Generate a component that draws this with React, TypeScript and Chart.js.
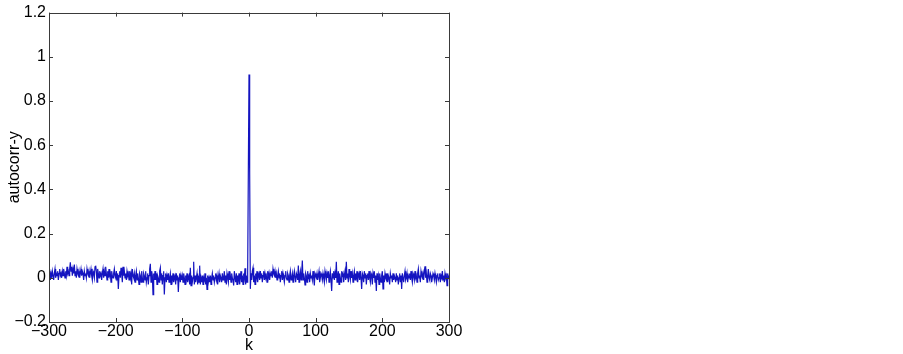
import React, { useEffect, useRef } from "react";
import { Chart, registerables } from "chart.js";

Chart.register(...registerables);

// Autocorrelation values, k = -300 .. -1
const autocorrNeg: number[] = [
  0.01, 0.03, -0.01, 0.02, 0.00, 0.03, 0.01, -0.01, 0.02, 0.04, 0.00, 0.02, 0.01, 0.03, -0.01, 0.02, 0.04, 0.01, 0.02, 0.00,
  0.03, 0.01, 0.04, 0.02, 0.00, 0.03, 0.01, 0.05, 0.02, 0.03, 0.01, 0.04, 0.07, 0.03, 0.05, 0.01, 0.04, 0.02, 0.06, 0.01,
  0.03, 0.00, 0.04, 0.02, 0.01, 0.03, 0.00, 0.02, 0.04, 0.01, 0.03, 0.02, -0.01, 0.03, 0.01, 0.02, 0.00, 0.04, 0.02, 0.01,
  0.03, 0.00, 0.02, 0.04, 0.01, -0.01, 0.03, 0.02, 0.00, 0.05, 0.055, 0.03, -0.02, 0.04, 0.02, 0.00, 0.03, 0.01, 0.02, -0.01,
  0.02, 0.04, 0.00, 0.03, 0.01, 0.05, 0.02, -0.01, 0.03, 0.00, 0.04, 0.01, 0.02, -0.02, 0.03, 0.01, 0.00, 0.02, 0.04, 0.01,
  0.00, 0.03, -0.01, 0.02, -0.05, 0.01, 0.03, 0.00, 0.045, 0.02, -0.02, 0.05, 0.01, 0.03, 0.00, 0.02, -0.01, 0.03, 0.01, 0.02,
  -0.01, 0.03, 0.00, 0.02, -0.03, 0.04, 0.01, 0.00, 0.02, -0.02, 0.01, 0.03, -0.01, 0.02, 0.00, -0.03, 0.02, 0.01, -0.02, 0.03,
  0.00, -0.02, 0.02, 0.01, -0.01, 0.03, -0.02, 0.00, 0.02, -0.03, 0.01, 0.04, 0.063, -0.02, 0.03, 0.01, -0.076, 0.02, -0.01, 0.03,
  -0.01, 0.02, -0.03, 0.01, 0.00, -0.02, 0.03, 0.045, -0.01, 0.02, -0.03, 0.01, 0.03, -0.076, 0.00, 0.02, -0.02, 0.01, -0.01, 0.02,
  -0.02, 0.00, 0.02, -0.03, 0.01, -0.01, 0.02, -0.02, 0.00, 0.01, -0.03, 0.02, -0.01, 0.01, -0.064, 0.00, 0.02, -0.02, 0.01, -0.01,
  0.01, -0.02, 0.02, 0.00, -0.03, 0.01, -0.01, 0.02, -0.02, 0.00, 0.01, -0.03, 0.045, -0.035, 0.01, -0.02, 0.00, 0.073, -0.03, 0.01,
  -0.02, 0.00, 0.02, -0.03, 0.01, -0.02, 0.055, -0.03, 0.00, -0.02, 0.01, -0.03, 0.00, -0.01, 0.02, -0.03, 0.00, -0.052, 0.01, -0.02,
  0.00, -0.02, 0.01, -0.03, 0.00, 0.02, -0.01, 0.01, -0.02, 0.00, 0.02, -0.01, 0.01, -0.03, 0.00, 0.02, -0.02, 0.01, 0.00, -0.02,
  0.02, -0.01, 0.00, 0.03, -0.02, 0.01, -0.03, 0.02, 0.00, -0.02, 0.03, -0.01, 0.01, -0.02, 0.02, 0.00, -0.01, -0.035, 0.03, 0.00,
  -0.02, 0.02, -0.03, 0.01, -0.01, 0.02, -0.03, 0.00, 0.03, -0.02, 0.01, -0.03, 0.02, 0.00, 0.043, -0.03, 0.01, -0.02, 0.02, 0.48,
];

// k = 0
const autocorrZero: number[] = [0.92];

// k = 1 .. 300
const autocorrPos: number[] = [
  0.48, -0.05, 0.02, -0.01, 0.03, 0.045, -0.02, 0.01, -0.03, 0.02, 0.00, 0.03, -0.02, 0.01, 0.02, -0.01, 0.03, 0.00, 0.02, -0.02,
  0.01, 0.03, -0.01, 0.02, 0.00, 0.01, -0.02, 0.03, 0.00, 0.02, -0.01, 0.02, 0.01, 0.03, 0.00, 0.04, 0.02, 0.01, 0.03, 0.00,
  0.02, -0.01, 0.01, 0.03, 0.00, 0.02, -0.02, 0.01, 0.03, -0.01, 0.02, 0.00, -0.02, 0.01, 0.03, 0.00, -0.01, 0.02, 0.01, -0.02,
  0.01, 0.03, -0.01, 0.00, 0.02, -0.02, 0.01, 0.03, 0.00, -0.02, 0.02, 0.01, -0.01, 0.055, -0.02, 0.01, 0.03, -0.01, 0.02, 0.078,
  -0.01, 0.02, 0.00, -0.032, 0.02, 0.01, -0.02, 0.03, 0.00, 0.01, -0.02, 0.02, 0.00, 0.01, -0.01, 0.03, 0.00, -0.035, 0.02, 0.01,
  0.00, 0.02, -0.01, 0.01, 0.03, -0.02, 0.00, 0.02, 0.01, -0.01, 0.02, 0.00, -0.02, 0.03, 0.01, -0.01, 0.02, 0.00, 0.03, -0.02,
  0.01, 0.03, -0.01, -0.06, 0.02, 0.00, 0.03, -0.01, 0.02, 0.00, 0.073, -0.02, 0.01, 0.03, -0.03, 0.02, 0.00, -0.02, 0.03, 0.01,
  0.02, -0.02, 0.01, 0.03, -0.01, 0.073, 0.00, 0.02, -0.02, 0.04, 0.01, -0.01, 0.03, 0.00, 0.02, -0.02, 0.01, 0.03, -0.01, 0.02,
  0.00, 0.03, -0.02, 0.01, 0.02, -0.01, 0.03, 0.00, -0.05, 0.02, 0.01, -0.02, 0.03, 0.00, 0.02, -0.03, 0.01, 0.02, -0.01, 0.03,
  0.00, -0.02, 0.02, 0.01, -0.03, 0.02, 0.00, 0.03, -0.02, 0.01, -0.06, 0.02, -0.01, 0.01, -0.03, 0.02, 0.00, -0.02, 0.01, 0.03,
  -0.05, 0.01, -0.02, 0.02, 0.00, -0.01, 0.02, -0.02, 0.01, 0.00, -0.03, 0.02, 0.00, 0.01, -0.02, 0.02, -0.01, 0.01, 0.00, -0.02,
  0.02, -0.01, 0.01, -0.03, 0.00, 0.02, -0.02, 0.01, -0.05, 0.02, 0.00, -0.02, 0.01, 0.03, -0.01, 0.00, 0.02, -0.02, 0.01, 0.00,
  0.02, -0.01, 0.03, 0.00, -0.02, 0.02, 0.01, -0.01, 0.03, 0.00, 0.01, -0.02, 0.02, 0.04, 0.00, 0.01, -0.02, 0.03, 0.01, 0.00,
  0.02, -0.01, 0.03, 0.052, 0.00, 0.02, -0.02, 0.01, 0.04, 0.00, -0.01, 0.02, 0.01, -0.02, 0.00, 0.02, 0.01, -0.01, 0.02, 0.00,
  -0.02, 0.01, 0.02, -0.01, 0.00, 0.02, -0.02, 0.01, 0.00, 0.03, -0.01, 0.01, -0.02, 0.02, 0.00, 0.01, -0.035, 0.02, 0.00, 0.01,
];

const kMin = -300;
const kMax = 300;
const xTickStep = 100;
const yMin = -0.2;
const yMax = 1.2;
const yTickStep = 0.2;
const xTitle = "k";
const yTitle = "autocorr-y";

const FONT = "'Liberation Sans', Arial, Helvetica, sans-serif";
const FONT_SIZE = 16;

function fmt(v: number): string {
  const r = parseFloat(v.toFixed(1));
  return r < 0 ? "\u2212" + String(-r) : String(r);
}

const boxPlugin = {
  id: "matlabBox",
  afterDatasetsDraw(chart: any) {
    const { ctx, chartArea } = chart;
    const { left, right, top, bottom } = chartArea;
    const xs = chart.scales.x;
    const ys = chart.scales.y;
    const tl = 4;
    ctx.save();
    ctx.strokeStyle = "#3a3a3a";
    ctx.lineWidth = 1;
    ctx.beginPath();
    xs.ticks.forEach((t: any) => {
      const px = Math.round(xs.getPixelForValue(t.value)) + 0.5;
      ctx.moveTo(px, bottom);
      ctx.lineTo(px, bottom - tl);
      ctx.moveTo(px, top);
      ctx.lineTo(px, top + tl);
    });
    ys.ticks.forEach((t: any) => {
      const py = Math.round(ys.getPixelForValue(t.value)) + 0.5;
      ctx.moveTo(left, py);
      ctx.lineTo(left + tl, py);
      ctx.moveTo(right, py);
      ctx.lineTo(right - tl, py);
    });
    ctx.stroke();
    ctx.strokeRect(Math.round(left) + 0.5, Math.round(top) + 0.5, Math.round(right - left), Math.round(bottom - top));
    ctx.restore();
  },
};

export default function App() {
  const ref = useRef<HTMLCanvasElement | null>(null);

  useEffect(() => {
    if (!ref.current) return;
    const values = [...autocorrNeg, ...autocorrZero, ...autocorrPos];
    const points = values.map((v, i) => ({ x: kMin + i, y: v }));
    const chart = new Chart(ref.current, {
      type: "line",
      data: {
        datasets: [
          {
            data: points,
            borderColor: "#1414c0",
            borderWidth: 1.2,
            pointRadius: 0,
            tension: 0,
            fill: false,
          },
        ],
      },
      options: {
        responsive: false,
        animation: false,
        events: [],
        layout: { padding: { top: 8, right: 454, left: 0, bottom: 0 } },
        plugins: { legend: { display: false }, tooltip: { enabled: false } },
        scales: {
          x: {
            type: "linear",
            min: kMin,
            max: kMax,
            afterFit: (s: any) => {
              s.height = 32;
            },
            ticks: {
              stepSize: xTickStep,
              color: "#000",
              font: { family: FONT, size: FONT_SIZE },
              padding: 0,
              maxRotation: 0,
              callback: (v: any) => fmt(Number(v)),
            },
            grid: { display: true, drawOnChartArea: false, drawTicks: false },
            border: { display: false },
            title: {
              display: true,
              text: xTitle,
              color: "#000",
              font: { family: FONT, size: FONT_SIZE },
              padding: { top: 0, bottom: -1 },
            },
          },
          y: {
            type: "linear",
            min: yMin,
            max: yMax,
            afterFit: (s: any) => {
              s.width = 49;
            },
            ticks: {
              stepSize: yTickStep,
              color: "#000",
              font: { family: FONT, size: FONT_SIZE },
              padding: 3,
              callback: (v: any) => fmt(Number(v)),
            },
            grid: { display: true, drawOnChartArea: false, drawTicks: false },
            border: { display: false },
            title: {
              display: true,
              text: yTitle,
              color: "#000",
              font: { family: FONT, size: FONT_SIZE },
              padding: { top: 5, bottom: 0 },
            },
          },
        },
      },
      plugins: [boxPlugin],
    });
    return () => chart.destroy();
  }, []);

  return (
    <div style={{ position: "absolute", left: 0, top: 0, width: 903, height: 354, background: "#fff" }}>
      <canvas ref={ref} width={903} height={354} style={{ display: "block" }} />
    </div>
  );
}
